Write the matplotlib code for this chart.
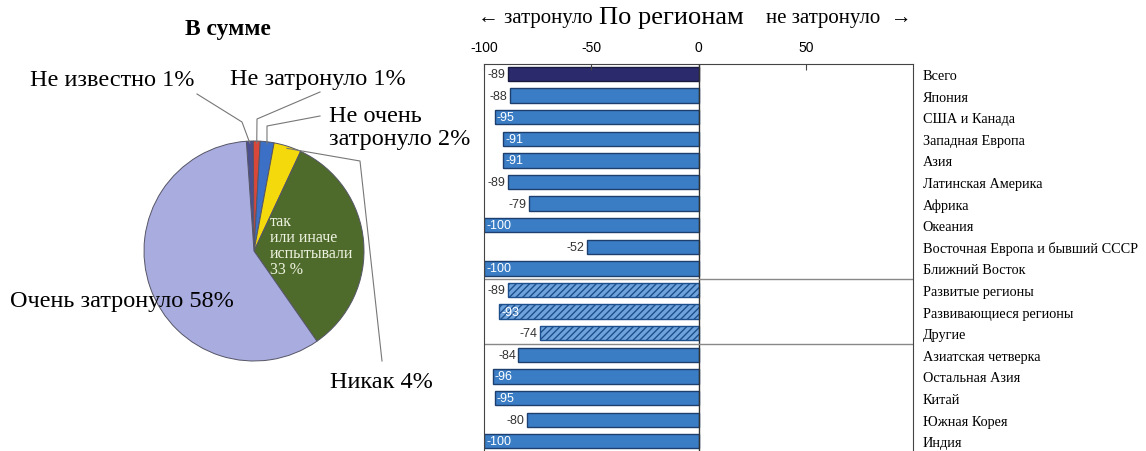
import numpy as np
import matplotlib.pyplot as plt

plt.rcParams['font.family'] = ['Liberation Serif', 'DejaVu Serif']

# pie data
pie_labels = ['Не известно 1%', 'Не затронуло 1%', 'Не очень\nзатронуло 2%',
              'Никак 4%', 'так\nили иначе\nиспытывали\n33 %', 'Очень затронуло 58%']
pie_values = [1, 1, 2, 4, 33, 58]
pie_colors = ['#4b4f8e', '#d9473a', '#3c6fc6', '#f4d90c', '#4f6b2b', '#a9acde']

# bar data
regions = ['Всего', 'Япония', 'США и Канада', 'Западная Европа', 'Азия',
           'Латинская Америка', 'Африка', 'Океания',
           'Восточная Европа и бывший СССР', 'Ближний Восток',
           'Развитые регионы', 'Развивающиеся регионы', 'Другие',
           'Азиатская четверка', 'Остальная Азия', 'Китай', 'Южная Корея', 'Индия']
region_values = [-89, -88, -95, -91, -91, -89, -79, -100, -52, -100,
                 -89, -93, -74, -84, -96, -95, -80, -100]
hatched_rows = [10, 11, 12]
x_ticks = [-100, -50, 0, 50]

W, H = 1146, 452
fig = plt.figure(figsize=(W / 100, H / 100), dpi=100)


def px(x, y):
    # pixel position (from top-left) -> pie axes data coords
    return x, H - y


# ---- pie ----
axp = fig.add_axes([0, 0, 0.42, 1])
cx, cy = px(254, 252)
R = 110
wedges, _ = axp.pie(pie_values, colors=pie_colors, startangle=94, counterclock=False,
                    center=(cx, cy), radius=R, frame=True,
                    wedgeprops=dict(edgecolor='#555566', linewidth=0.7))
axp.set_xlim(0, 0.42 * W)
axp.set_ylim(0, H)
axp.axis('off')


def edge_point(w, r=R):
    t = np.deg2rad((w.theta1 + w.theta2) / 2)
    return cx + r * np.cos(t), cy + r * np.sin(t)


line_kw = dict(color='#777777', lw=0.8)
# leader lines
leaders = [
    (0, [px(197, 95), px(242, 123)]),
    (1, [px(320, 93), px(257, 120)]),
    (2, [px(320, 117), px(267, 127)]),
    (3, [px(382, 362), px(360, 162)]),
]
for i, pts in leaders:
    ex, ey = edge_point(wedges[i], R * 0.98)
    xs = [p[0] for p in pts] + [ex]
    ys = [p[1] for p in pts] + [ey]
    axp.plot(xs, ys, **line_kw)

fs = 17.5
axp.text(*px(30, 80), pie_labels[0], fontsize=fs, va='center', ha='left')
axp.text(*px(230, 80), pie_labels[1], fontsize=fs, va='center', ha='left')
axp.text(*px(329, 128), pie_labels[2], fontsize=fs, va='center', ha='left', linespacing=1.1)
axp.text(*px(330, 383), pie_labels[3], fontsize=fs, va='center', ha='left')
axp.text(*px(10, 302), pie_labels[5], fontsize=fs, va='center', ha='left')
axp.text(*px(270, 246), pie_labels[4], fontsize=11.5, va='center', ha='left',
         color='#eef2e0', linespacing=1.0)
axp.text(*px(228, 30), 'В сумме', fontsize=17, fontweight='bold', va='center', ha='center')

# ---- bars ----
left, right, top = 484 / W, 913 / W, 1 - 65 / H
ax = fig.add_axes([left, 0, right - left, top])
y = np.arange(len(regions))
for i, v in enumerate(region_values):
    if i == 0:
        ax.barh(i, v, height=0.66, color='#2a2a6c', edgecolor='#1a1a40', lw=1)
    elif i in hatched_rows:
        ax.barh(i, v, height=0.66, color='#6fa3dc', edgecolor='#1d4f8c', lw=1, hatch='/////')
    else:
        ax.barh(i, v, height=0.66, color='#3a7dc4', edgecolor='#1c3f6e', lw=1)
    if v <= -90:
        ax.text(v + 1, i, str(v), color='white', fontsize=9, va='center', ha='left',
                family='Liberation Sans')
    else:
        ax.text(v - 1, i, str(v), color='#333333', fontsize=9, va='center', ha='right',
                family='Liberation Sans')

ax.set_xlim(-100, 100)
ax.set_ylim(17.45, -0.46)
ax.axvline(0, color='#333333', lw=1)
for sep in (9.5, 12.5):
    ax.axhline(sep, color='#888888', lw=1)
ax.spines['bottom'].set_visible(False)
for s in ('top', 'left', 'right'):
    ax.spines[s].set_color('#444444')
ax.xaxis.tick_top()
ax.set_xticks(x_ticks)
ax.set_xticklabels([str(t) for t in x_ticks], family='Liberation Sans', fontsize=10)
ax.tick_params(axis='x', direction='in', length=4, pad=7, color='#444444')
ax.yaxis.tick_right()
ax.set_yticks(y)
ax.set_yticklabels(regions, fontsize=10.3)
ax.tick_params(axis='y', length=0, pad=7)

fig.text(478 / W, 1 - 18 / H, '← затронуло', fontsize=15, va='center', ha='left')
fig.text(671 / W, 1 - 18 / H, 'По регионам', fontsize=19, va='center', ha='center')
fig.text(766 / W, 1 - 18 / H, 'не затронуло  →', fontsize=15, va='center', ha='left')

fig.savefig('out.png', dpi=100)
